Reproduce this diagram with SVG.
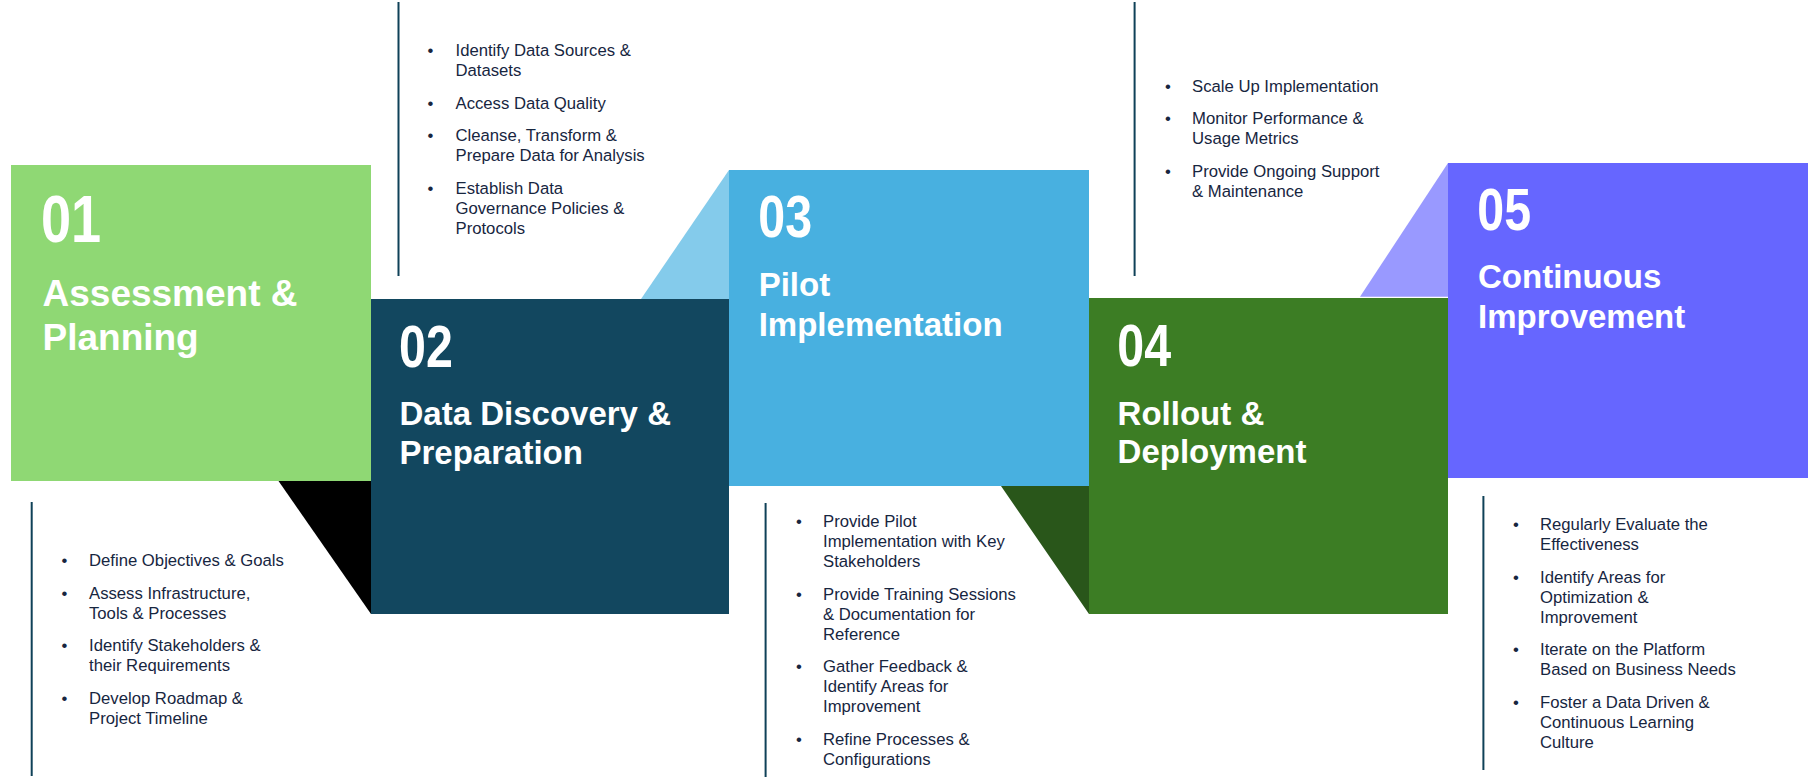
<svg xmlns="http://www.w3.org/2000/svg" width="1808" height="780" viewBox="0 0 1808 780">
<style>
  .num { font-family: "Liberation Sans", Arial, sans-serif; font-weight: bold; fill: #ffffff; }
  .ttl { font-family: "Liberation Sans", Arial, sans-serif; font-weight: bold; fill: #ffffff; font-size: 33px; }
  .txt { font-family: "Liberation Sans", Arial, sans-serif; font-size: 16.7px; fill: #17263f; }
  .bul { font-family: "Liberation Sans", Arial, sans-serif; font-size: 16.7px; fill: #17263f; text-anchor: middle; }
  .rule { stroke: #0f4158; stroke-width: 2; fill: none; }
</style>
<rect width="1808" height="780" fill="#ffffff"/>

<g id="step01">
  <rect x="11" y="165" width="360" height="316" fill="#8fd874"/>
  <polygon points="278.5,481 371,481 371,614" fill="#000000"/>
  <text class="num" font-size="66" transform="translate(41,242) scale(0.82,1)">01</text>
  <text class="ttl" style="font-size:37px" x="42.5" y="305.5">Assessment &amp;</text>
  <text class="ttl" style="font-size:37px" x="42.5" y="350">Planning</text>
  <line class="rule" x1="31.7" y1="502" x2="31.7" y2="776"/>
  <g transform="translate(1,0)">
    <text class="bul" x="63.4" y="565.7">•</text><text class="txt" x="88" y="565.7">Define Objectives &amp; Goals</text>
    <text class="bul" x="63.4" y="598.7">•</text><text class="txt" x="88" y="598.7">Assess Infrastructure,</text>
    <text class="txt" x="88" y="618.7">Tools &amp; Processes</text>
    <text class="bul" x="63.4" y="651">•</text><text class="txt" x="88" y="651">Identify Stakeholders &amp;</text>
    <text class="txt" x="88" y="671">their Requirements</text>
    <text class="bul" x="63.4" y="703.7">•</text><text class="txt" x="88" y="703.7">Develop Roadmap &amp;</text>
    <text class="txt" x="88" y="723.7">Project Timeline</text>
  </g>
</g>

<g id="step02">
  <rect x="371" y="299" width="358" height="315" fill="#12475f"/>
  <text class="num" font-size="59" transform="translate(399,367.3) scale(0.82,1)">02</text>
  <text class="ttl" x="399.5" y="424.5">Data Discovery &amp;</text>
  <text class="ttl" x="399.5" y="464">Preparation</text>
  <line class="rule" x1="398.5" y1="2" x2="398.5" y2="276"/>
  <g transform="translate(1,0)">
    <text class="bul" x="429.5" y="56.3">•</text><text class="txt" x="454.5" y="56.3">Identify Data Sources &amp;</text>
    <text class="txt" x="454.5" y="76.3">Datasets</text>
    <text class="bul" x="429.5" y="108.8">•</text><text class="txt" x="454.5" y="108.8">Access Data Quality</text>
    <text class="bul" x="429.5" y="141.3">•</text><text class="txt" x="454.5" y="141.3">Cleanse, Transform &amp;</text>
    <text class="txt" x="454.5" y="161.3">Prepare Data for Analysis</text>
    <text class="bul" x="429.5" y="193.8">•</text><text class="txt" x="454.5" y="193.8">Establish Data</text>
    <text class="txt" x="454.5" y="213.8">Governance Policies &amp;</text>
    <text class="txt" x="454.5" y="233.8">Protocols</text>
  </g>
</g>

<g id="step03">
  <polygon points="729,170 729,299 641,299" fill="#84cbeb"/>
  <rect x="729" y="170" width="360" height="316" fill="#48b0e0"/>
  <polygon points="1001,486 1089,486 1089,614" fill="#29561a"/>
  <text class="num" font-size="59" transform="translate(758.3,237.3) scale(0.82,1)">03</text>
  <text class="ttl" x="758.7" y="296">Pilot</text>
  <text class="ttl" x="758.7" y="335.5">Implementation</text>
  <line class="rule" x1="765.6" y1="503" x2="765.6" y2="777"/>
  <g transform="translate(1,0)">
    <text class="bul" x="798" y="526.7">•</text><text class="txt" x="822" y="526.7">Provide Pilot</text>
    <text class="txt" x="822" y="546.7">Implementation with Key</text>
    <text class="txt" x="822" y="566.7">Stakeholders</text>
    <text class="bul" x="798" y="600">•</text><text class="txt" x="822" y="600">Provide Training Sessions</text>
    <text class="txt" x="822" y="620">&amp; Documentation for</text>
    <text class="txt" x="822" y="640">Reference</text>
    <text class="bul" x="798" y="671.7">•</text><text class="txt" x="822" y="671.7">Gather Feedback &amp;</text>
    <text class="txt" x="822" y="691.7">Identify Areas for</text>
    <text class="txt" x="822" y="711.7">Improvement</text>
    <text class="bul" x="798" y="745">•</text><text class="txt" x="822" y="745">Refine Processes &amp;</text>
    <text class="txt" x="822" y="765">Configurations</text>
  </g>
</g>

<g id="step04">
  <rect x="1089" y="298" width="359" height="316" fill="#3c7d24"/>
  <text class="num" font-size="59" transform="translate(1117.3,365.7) scale(0.82,1)">04</text>
  <text class="ttl" x="1117.6" y="424.8">Rollout &amp;</text>
  <text class="ttl" x="1117.6" y="463.3">Deployment</text>
  <line class="rule" x1="1134.6" y1="2" x2="1134.6" y2="276"/>
  <g transform="translate(1,0)">
    <text class="bul" x="1167" y="91.7">•</text><text class="txt" x="1191" y="91.7">Scale Up Implementation</text>
    <text class="bul" x="1167" y="124.3">•</text><text class="txt" x="1191" y="124.3">Monitor Performance &amp;</text>
    <text class="txt" x="1191" y="144.3">Usage Metrics</text>
    <text class="bul" x="1167" y="176.7">•</text><text class="txt" x="1191" y="176.7">Provide Ongoing Support</text>
    <text class="txt" x="1191" y="196.7">&amp; Maintenance</text>
  </g>
</g>

<g id="step05">
  <polygon points="1448,163 1448,296.7 1360,296.7" fill="#9999ff"/>
  <rect x="1448" y="163" width="360" height="315" fill="#6666ff"/>
  <text class="num" font-size="59" transform="translate(1477.3,230) scale(0.82,1)">05</text>
  <text class="ttl" x="1478" y="288">Continuous</text>
  <text class="ttl" x="1478" y="327.5">Improvement</text>
  <line class="rule" x1="1483.4" y1="496" x2="1483.4" y2="770"/>
  <g transform="translate(1,0)">
    <text class="bul" x="1515" y="530">•</text><text class="txt" x="1539" y="530">Regularly Evaluate the</text>
    <text class="txt" x="1539" y="550">Effectiveness</text>
    <text class="bul" x="1515" y="582.7">•</text><text class="txt" x="1539" y="582.7">Identify Areas for</text>
    <text class="txt" x="1539" y="602.7">Optimization &amp;</text>
    <text class="txt" x="1539" y="622.7">Improvement</text>
    <text class="bul" x="1515" y="655">•</text><text class="txt" x="1539" y="655">Iterate on the Platform</text>
    <text class="txt" x="1539" y="675">Based on Business Needs</text>
    <text class="bul" x="1515" y="708.3">•</text><text class="txt" x="1539" y="708.3">Foster a Data Driven &amp;</text>
    <text class="txt" x="1539" y="728.3">Continuous Learning</text>
    <text class="txt" x="1539" y="748.3">Culture</text>
  </g>
</g>
</svg>
